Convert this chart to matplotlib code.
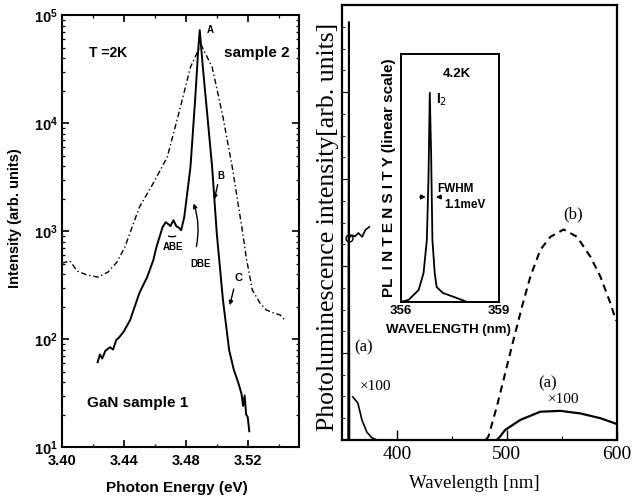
import matplotlib
matplotlib.use("Agg")
import matplotlib.pyplot as plt
from matplotlib.ticker import MultipleLocator, LogLocator, NullFormatter, FixedLocator, NullLocator

# ---------------- Left panel data (GaN, T = 2K) ----------------
s2_energy = [3.400, 3.4026, 3.4052, 3.4097, 3.4161, 3.4232, 3.4297, 3.4355, 3.4406,
             3.450, 3.459, 3.468, 3.476, 3.483, 3.489, 3.490, 3.497, 3.504, 3.510,
             3.5168, 3.519, 3.523, 3.528, 3.532, 3.536, 3.541, 3.544]
s2_int = [506, 517, 528, 427, 392, 375, 417, 517, 711,
          1667, 2780, 4840, 13200, 33000, 50600, 52700, 33000, 11400, 3920,
          957, 574, 284, 215, 186, 176, 167, 150]

s1_energy = [3.423, 3.4245, 3.426, 3.428, 3.431, 3.433, 3.435, 3.437, 3.440, 3.444,
             3.450, 3.455, 3.459, 3.461, 3.465, 3.467, 3.469, 3.470, 3.472, 3.474,
             3.475, 3.477, 3.479, 3.483, 3.486, 3.488, 3.489, 3.491, 3.494, 3.497,
             3.500, 3.501, 3.504, 3.508, 3.511, 3.514, 3.516, 3.517, 3.518, 3.519,
             3.520, 3.521]
s1_int = [61, 72, 66, 78, 84, 80, 98, 104, 118, 150,
          267, 375, 538, 711, 1090, 1210, 1150, 1110, 1260, 1100,
          1090, 1020, 1350, 3920, 16300, 47400, 72600, 33000, 11400, 3920,
          957, 667, 230, 79, 52, 39, 31, 24, 30, 20,
          19, 14]

# ---------------- Right panel data ----------------
peak_wl = [355.8, 356.4, 356.9]
peak_val = [0.0, 0.961, 0.0]

a1_wl = [360.0, 364.6, 368.3, 372.8, 377.4, 382.0]
a1_val = [0.099, 0.085, 0.046, 0.018, 0.005, 0.0]

brk_wl = [356.4, 359.0, 362.0, 365.0, 368.5, 371.5, 375.0]
brk_val = [0.464, 0.471, 0.468, 0.476, 0.467, 0.483, 0.490]

a2_wl = [491.0, 494.0, 498.6, 512.3, 530.6, 548.9, 567.1, 585.4, 600.0]
a2_val = [0.0, 0.008, 0.023, 0.046, 0.065, 0.067, 0.061, 0.050, 0.037]

b_wl = [481.0, 483.4, 491.1, 498.6, 506.2, 513.9, 521.5, 530.6, 539.7, 551.9,
        564.1, 576.3, 585.4, 594.5, 599.5]
b_val = [0.0, 0.008, 0.077, 0.153, 0.230, 0.306, 0.375, 0.437, 0.467, 0.484,
         0.467, 0.421, 0.375, 0.314, 0.274]

# ---------------- Inset data ----------------
ins_wl = [356.0, 356.24, 356.55, 356.70, 356.80, 356.85, 356.89, 356.93,
          356.97, 357.04, 357.10, 357.29, 357.71, 358.02, 359.0]
ins_val = [0.0, 0.008, 0.048, 0.117, 0.250, 0.50, 0.843, 0.60,
           0.250, 0.117, 0.060, 0.036, 0.016, 0.0, 0.0]

SANS = "Liberation Sans"
SERIF = "Liberation Serif"

fig = plt.figure(figsize=(6.33, 5.04), dpi=100)

# ================= Left panel =================
axL = fig.add_axes([0.098, 0.113, 0.374, 0.857])
axL.plot(s2_energy, s2_int, color="black", lw=1.0, ls=(0, (4, 2, 1, 2)))
axL.plot(s1_energy, s1_int, color="black", lw=1.4)
axL.set_yscale("log")
axL.set_xlim(3.40, 3.553)
axL.set_ylim(10, 1e5)
axL.xaxis.set_major_locator(FixedLocator([3.40, 3.44, 3.48, 3.52]))
axL.xaxis.set_minor_locator(MultipleLocator(0.02))
axL.set_xticklabels(["3.40", "3.44", "3.48", "3.52"])
axL.yaxis.set_major_locator(LogLocator(base=10, numticks=10))
axL.yaxis.set_minor_locator(LogLocator(base=10, subs=range(2, 10), numticks=20))
axL.yaxis.set_minor_formatter(NullFormatter())
axL.tick_params(which="both", direction="in", top=True, right=True)
axL.tick_params(which="major", length=5, width=1.2, labelsize=10.5, pad=3)
axL.tick_params(which="major", axis="x", pad=5)
axL.tick_params(which="minor", length=2.5, width=0.9)
for lab in axL.get_xticklabels() + axL.get_yticklabels():
    lab.set_fontfamily(SANS)
    lab.set_fontweight("bold")
for sp in axL.spines.values():
    sp.set_linewidth(1.5)
axL.set_xlabel("Photon Energy (eV)", fontfamily=SANS, fontweight="bold", fontsize=11, va="center")
axL.xaxis.set_label_coords(0.485, -0.095)
axL.set_ylabel("Intensity (arb. units)", fontfamily=SANS, fontweight="bold", fontsize=10.5, va="center")
axL.yaxis.set_label_coords(-0.198, 0.53)

tkw = dict(transform=axL.transAxes, fontfamily=SANS, fontweight="bold", ha="center", va="center")
axL.text(0.194, 0.912, "T =2K", fontsize=10, **tkw)
axL.text(0.823, 0.912, "sample 2", fontsize=11, **tkw)
axL.text(0.32, 0.102, "GaN sample 1", fontsize=11, **tkw)
axL.text(0.625, 0.965, "A", fontsize=7, **tkw)
axL.text(0.672, 0.628, "B", fontsize=7, **tkw)
axL.text(0.468, 0.462, "ABE", fontsize=7, **tkw)
axL.text(0.585, 0.424, "DBE", fontsize=7, **tkw)
axL.text(0.745, 0.392, "C", fontsize=8, **tkw)
akw = dict(xycoords="axes fraction", textcoords="axes fraction")
axL.annotate("", xy=(0.641, 0.567), xytext=(0.660, 0.614),
             arrowprops=dict(arrowstyle="-|>", lw=1.0, color="black", mutation_scale=6), **akw)
axL.annotate("", xy=(0.552, 0.570), xytext=(0.565, 0.458),
             arrowprops=dict(arrowstyle="-|>", lw=1.0, color="black", mutation_scale=6,
                             connectionstyle="arc3,rad=0.15"), **akw)
axL.annotate("", xy=(0.706, 0.322), xytext=(0.728, 0.372),
             arrowprops=dict(arrowstyle="-|>", lw=1.0, color="black", mutation_scale=6), **akw)
axL.annotate("", xy=(0.490, 0.492), xytext=(0.440, 0.492),
             arrowprops=dict(arrowstyle="-", lw=1.0, color="black",
                             connectionstyle="arc3,rad=0.4"), **akw)

# ================= Right panel =================
axR = fig.add_axes([0.540, 0.127, 0.434, 0.863])
axR.plot(peak_wl, peak_val, color="black", lw=1.3)
axR.plot(a1_wl, a1_val, color="black", lw=1.2)
axR.plot(brk_wl, brk_val, color="black", lw=1.2)
axR.plot([brk_wl[0]], [brk_val[0]], marker="o", ms=5, mfc="none", mec="black", mew=1.0)
axR.plot(a2_wl, a2_val, color="black", lw=1.6)
axR.plot(b_wl, b_val, color="black", lw=1.5, ls=(0, (3.5, 2.5)))
axR.set_xlim(350, 600)
axR.set_ylim(0, 1)
axR.xaxis.set_major_locator(FixedLocator([400, 500, 600]))
axR.xaxis.set_minor_locator(FixedLocator([450, 550]))
axR.yaxis.set_major_locator(FixedLocator([0.2, 0.4, 0.6, 0.8]))
axR.yaxis.set_minor_locator(MultipleLocator(0.05))
axR.set_yticklabels([])
axR.tick_params(which="both", direction="in")
axR.tick_params(which="major", axis="x", length=7, width=1.0, labelsize=14, pad=4)
axR.tick_params(which="minor", axis="x", length=3, width=0.8)
axR.tick_params(which="major", axis="y", length=4, width=0.8)
axR.tick_params(which="minor", axis="y", length=2, width=0.6)
for lab in axR.get_xticklabels():
    lab.set_fontfamily(SERIF)
for sp in axR.spines.values():
    sp.set_linewidth(1.6)
axR.set_xlabel("Wavelength [nm]", fontfamily=SERIF, fontsize=13.5, va="center")
axR.xaxis.set_label_coords(0.484, -0.099)
axR.set_ylabel("Photoluminescence intensity[arb. units]", fontfamily=SERIF, fontsize=18.5, va="center")
axR.yaxis.set_label_coords(-0.052, 0.49)

rkw = dict(transform=axR.transAxes, fontfamily=SERIF, ha="center", va="center")
axR.text(0.078, 0.214, "(a)", fontsize=12, **rkw)
axR.text(0.122, 0.122, "×100", fontsize=11, **rkw)
axR.text(0.840, 0.518, "(b)", fontsize=12, **rkw)
axR.text(0.749, 0.131, "(a)", fontsize=12, **rkw)
axR.text(0.806, 0.092, "×100", fontsize=11, **rkw)

# ================= Inset =================
axI = fig.add_axes([0.633, 0.401, 0.155, 0.492])
axI.plot(ins_wl, ins_val, color="black", lw=1.3)
axI.set_xlim(356, 359)
axI.set_ylim(0, 1)
axI.xaxis.set_major_locator(FixedLocator([356, 359]))
axI.set_xticklabels(["356", "359"])
axI.yaxis.set_major_locator(NullLocator())
axI.tick_params(axis="x", length=0, pad=2, labelsize=9.5)
for lab in axI.get_xticklabels():
    lab.set_fontfamily(SANS)
    lab.set_fontweight("bold")
for sp in axI.spines.values():
    sp.set_linewidth(1.4)
axI.set_xlabel("WAVELENGTH (nm)", fontfamily=SANS, fontweight="bold", fontsize=9.5, va="center")
axI.xaxis.set_label_coords(0.49, -0.115)
axI.set_ylabel("PL  I N T E N S I T Y (linear scale)", fontfamily=SANS, fontweight="bold",
               fontsize=11, va="center")
axI.yaxis.set_label_coords(-0.115, 0.5)

ikw = dict(transform=axI.transAxes, fontfamily=SANS, fontweight="bold", va="center")
axI.text(0.571, 0.919, "4.2K", fontsize=9.5, ha="center", **ikw)
axI.text(0.36, 0.815, "I$_2$", fontsize=10, ha="left", **ikw)
axI.text(0.375, 0.455, "FWHM", fontsize=8.5, ha="left", **ikw)
axI.text(0.445, 0.392, "1.1meV", fontsize=8.5, ha="left", **ikw)
ikw2 = dict(xycoords="axes fraction", textcoords="axes fraction")
axI.annotate("", xy=(0.285, 0.423), xytext=(0.17, 0.423),
             arrowprops=dict(arrowstyle="-|>", lw=1.2, color="black", mutation_scale=6), **ikw2)
axI.annotate("", xy=(0.33, 0.423), xytext=(0.43, 0.423),
             arrowprops=dict(arrowstyle="-|>", lw=1.2, color="black", mutation_scale=6), **ikw2)

fig.savefig("out.png", dpi=100)
